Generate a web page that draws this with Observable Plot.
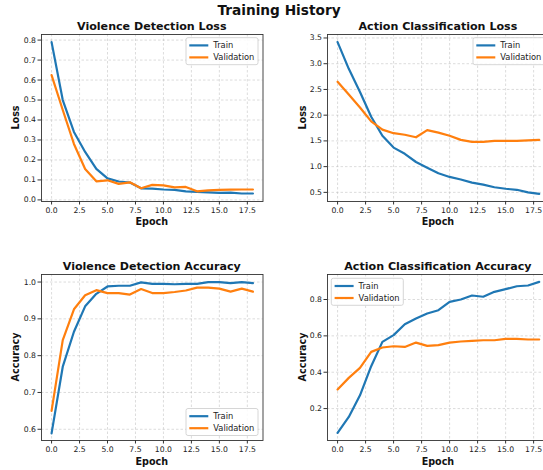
<!DOCTYPE html>
<html><head><meta charset="utf-8">
<script src="https://cdn.jsdelivr.net/npm/d3@7"></script>
<script src="https://cdn.jsdelivr.net/npm/@observablehq/plot@0.6"></script>
<style>
html,body{margin:0;padding:0;background:#fff;}
#wrap{position:relative;width:543px;height:470px;overflow:hidden;font-family:"DejaVu Sans",sans-serif;background:#fff;}
.panel{position:absolute;}
#overlay{position:absolute;left:0;top:0;pointer-events:none;}
</style></head><body><div id="wrap"></div>
<script>
// ---- data ----
const epochs = [0,1,2,3,4,5,6,7,8,9,10,11,12,13,14,15,16,17,18];
const vdTrainLoss = [0.79,0.50,0.34,0.24,0.155,0.108,0.092,0.087,0.058,0.056,0.052,0.050,0.043,0.040,0.038,0.035,0.036,0.032,0.032];
const vdValLoss   = [0.625,0.45,0.28,0.155,0.093,0.098,0.080,0.088,0.058,0.075,0.073,0.063,0.065,0.043,0.048,0.050,0.051,0.052,0.052];
const acTrainLoss = [3.42,2.90,2.45,1.97,1.60,1.37,1.25,1.09,0.98,0.87,0.80,0.75,0.69,0.65,0.60,0.57,0.55,0.50,0.47];
const acValLoss   = [2.65,2.40,2.15,1.88,1.72,1.65,1.62,1.57,1.71,1.66,1.60,1.52,1.48,1.48,1.50,1.50,1.50,1.51,1.52];
const vdTrainAcc  = [0.589,0.77,0.865,0.934,0.968,0.988,0.990,0.990,0.999,0.995,0.995,0.994,0.995,0.995,1.0,1.0,0.997,1.0,0.997];
const vdValAcc    = [0.65,0.842,0.926,0.964,0.978,0.970,0.970,0.966,0.981,0.970,0.970,0.973,0.977,0.985,0.985,0.982,0.974,0.982,0.974];
const acTrainAcc  = [0.066,0.154,0.273,0.433,0.567,0.604,0.664,0.695,0.723,0.741,0.787,0.800,0.822,0.815,0.842,0.857,0.873,0.877,0.897];
const acValAcc    = [0.305,0.369,0.424,0.512,0.536,0.543,0.539,0.563,0.545,0.549,0.563,0.569,0.572,0.576,0.576,0.583,0.583,0.580,0.580];

const xTicks = [0,2.5,5,7.5,10,12.5,15,17.5];
const yTicksVDLoss = [0,0.1,0.2,0.3,0.4,0.5,0.6,0.7,0.8];
const yTicksACLoss = [0.5,1.0,1.5,2.0,2.5,3.0,3.5];
const yTicksVDAcc  = [0.6,0.7,0.8,0.9,1.0];
const yTicksACAcc  = [0.2,0.4,0.6,0.8];

const titles = ["Violence Detection Loss","Action Classification Loss","Violence Detection Accuracy","Action Classification Accuracy"];
const yLabels = ["Loss","Loss","Accuracy","Accuracy"];
const seriesNames = ["Train","Validation"];
const colors = ["#1f77b4","#ff7f0e"];

// ---- layout ----
const panels = [
  {train: vdTrainLoss, val: vdValLoss, ticks: yTicksVDLoss, domain: [-0.008,0.828],
   left:0, top:0, width:272, height:235, mL:41, mR:9.5, mT:34, mB:34, legend:[186,37.7]},
  {train: acTrainLoss, val: acValLoss, ticks: yTicksACLoss, domain: [0.3225,3.5675],
   left:272, top:0, width:280, height:235, mL:55, mR:3.2, mT:34, mB:34, legend:[473,37.7]},
  {train: vdTrainAcc, val: vdValAcc, ticks: yTicksVDAcc, domain: [0.5695,1.0205],
   left:0, top:235, width:272, height:235, mL:41, mR:9.5, mT:39, mB:30, legend:[186,408.5]},
  {train: acTrainAcc, val: acValAcc, ticks: yTicksACAcc, domain: [0.0245,0.9375],
   left:272, top:235, width:280, height:235, mL:55, mR:3.2, mT:39, mB:30, legend:[331.3,278.3]}
];

const wrap = document.getElementById("wrap");
const fmt = d3.format(".1f");
const gridStyle = {stroke:"#b0b0b0", strokeOpacity:0.75, strokeDasharray:"2.5,2", strokeWidth:0.6};

panels.forEach((p, k) => {
  const chart = Plot.plot({
    width: p.width, height: p.height,
    marginLeft: p.mL, marginRight: p.mR, marginTop: p.mT, marginBottom: p.mB,
    style: {fontFamily: "DejaVu Sans", fontSize: "7.7px", color: "#1a1a1a", background: "white"},
    x: {domain: [-0.9, 18.9], label: null},
    y: {domain: p.domain, label: null},
    marks: [
      Plot.gridX(xTicks, gridStyle),
      Plot.gridY(p.ticks, gridStyle),
      Plot.line(epochs, {x: d => d, y: (d, i) => p.train[i], stroke: colors[0], strokeWidth: 2.2}),
      Plot.line(epochs, {x: d => d, y: (d, i) => p.val[i], stroke: colors[1], strokeWidth: 2.2}),
      Plot.frame({stroke: "#333", strokeWidth: 0.9}),
      Plot.axisX({ticks: xTicks, tickFormat: fmt, tickSize: 3.5, tickPadding: 3, label: null, stroke:"#333"}),
      Plot.axisY({ticks: p.ticks, tickFormat: fmt, tickSize: 3.5, tickPadding: 2, label: null, stroke:"#333"})
    ]
  });
  chart.classList.add("panel");
  chart.style.left = p.left + "px";
  chart.style.top = p.top + "px";
  wrap.appendChild(chart);
});

// ---- overlay text: titles, axis labels, legends ----
const ov = d3.select(wrap).append("svg").attr("id","overlay").attr("width",543).attr("height",470)
  .attr("font-family","DejaVu Sans");

ov.append("text").attr("x",279).attr("y",15).attr("text-anchor","middle")
  .attr("font-weight","bold").attr("font-size","13.7px").attr("fill","#111").text("Training History");

panels.forEach((p, k) => {
  const fx0 = p.left + p.mL, fx1 = p.left + p.width - p.mR;
  const fy0 = p.top + p.mT, fy1 = p.top + p.height - p.mB;
  const cx = (fx0 + fx1) / 2, cy = (fy0 + fy1) / 2;
  ov.append("text").attr("x",cx).attr("y",fy0 - 4).attr("text-anchor","middle")
    .attr("font-weight","bold").attr("font-size","11.1px").attr("fill","#111").text(titles[k]);
  ov.append("text").attr("x",cx).attr("y",fy1 + (k < 2 ? 23.5 : 25.2)).attr("text-anchor","middle")
    .attr("font-weight","bold").attr("font-size","9.6px").attr("fill","#111").text("Epoch");
  const lx = p.left + (k % 2 === 0 ? 19.3 : 33.5);
  ov.append("text").attr("transform",`translate(${lx},${cy}) rotate(-90)`).attr("text-anchor","middle")
    .attr("font-weight","bold").attr("font-size","9.6px").attr("fill","#111").text(yLabels[k]);
  // legend
  const [x0, y0] = p.legend;
  const g = ov.append("g");
  g.append("rect").attr("x",x0).attr("y",y0).attr("width",72).attr("height",27).attr("rx",2)
    .attr("fill","white").attr("fill-opacity",0.85).attr("stroke","#cccccc").attr("stroke-width",0.8);
  seriesNames.forEach((name, j) => {
    const yy = y0 + 7.7 + j * 12;
    g.append("line").attr("x1",x0+3.3).attr("x2",x0+22.3).attr("y1",yy).attr("y2",yy)
      .attr("stroke",colors[j]).attr("stroke-width",2.2);
    g.append("text").attr("x",x0+27.3).attr("y",yy+3).attr("font-size","8.3px").attr("fill","#222").text(name);
  });
});
</script></body></html>
